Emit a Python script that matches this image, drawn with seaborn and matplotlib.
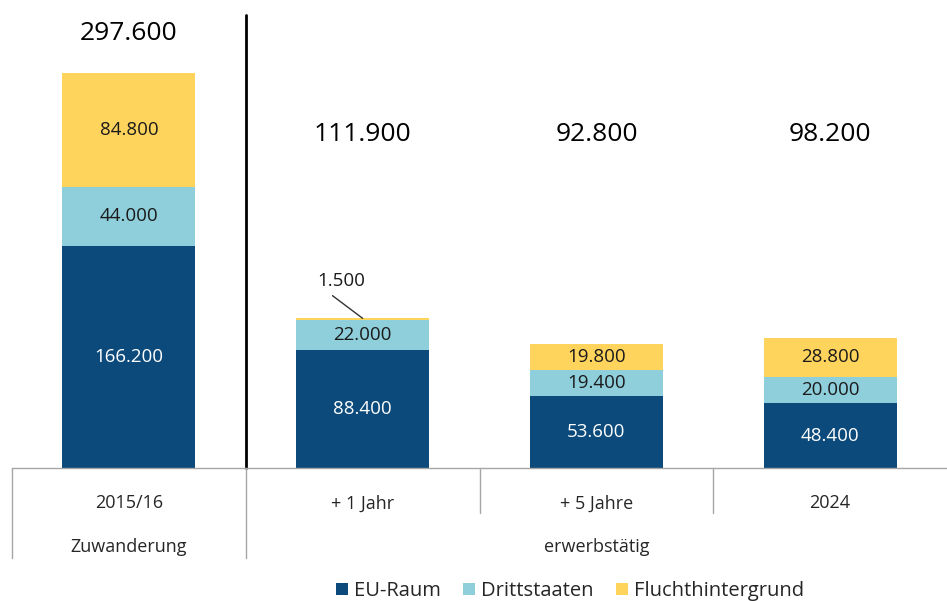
"""Stacked bars: Zuwanderung und Erwerbstätigkeit nach Herkunft"""
import numpy as np
import pandas as pd
import matplotlib
matplotlib.use("Agg")
import matplotlib.pyplot as plt
import seaborn as sns
from matplotlib.transforms import blended_transform_factory

# data
categories = ["2015/16", "+ 1 Jahr", "+ 5 Jahre", "2024"]
eu_raum = [166200, 88400, 53600, 48400]
drittstaaten = [44000, 22000, 19400, 20000]
flucht = [84800, 1500, 19800, 28800]
totals = [297600, 111900, 92800, 98200]
series_names = ["EU-Raum", "Drittstaaten", "Fluchthintergrund"]
group_labels = ["Zuwanderung", "erwerbstätig"]

colors = {"EU-Raum": "#0B4A7A", "Drittstaaten": "#8ECFDB", "Fluchthintergrund": "#FFD45C"}

sns.set_style("white")
plt.rcParams["font.family"] = ["Open Sans", "DejaVu Sans"]


def fmt(v):
    return f"{v:,}".replace(",", ".")


df = pd.DataFrame({
    "Kategorie": categories,
    "EU-Raum": eu_raum,
    "Drittstaaten": drittstaaten,
    "Fluchthintergrund": flucht,
})
df["cum1"] = df["EU-Raum"]
df["cum2"] = df["cum1"] + df["Drittstaaten"]
df["cum3"] = df["cum2"] + df["Fluchthintergrund"]

fig = plt.figure(figsize=(9.47, 6.01), dpi=100)
ax = fig.add_axes([12 / 947, (601 - 468) / 601, 935 / 947, (468 - 15) / 601])

# stacked bars: draw cumulative sums, largest first
bw = 0.57
for col, name in [("cum3", "Fluchthintergrund"), ("cum2", "Drittstaaten"), ("cum1", "EU-Raum")]:
    sns.barplot(data=df, x="Kategorie", y=col, color=colors[name], width=bw,
                saturation=1, ax=ax, label=name, linewidth=0)

ax.set_xlim(-0.5, 3.5)
ax.set_ylim(0, 338700)
ax.set_yticks([])
ax.set_ylabel("")
ax.set_xlabel("")
for s in ["top", "right", "left"]:
    ax.spines[s].set_visible(False)
ax.spines["bottom"].set_color("#A6A6A6")
ax.spines["bottom"].set_linewidth(1)

# segment labels
for i in range(len(categories)):
    ax.text(i, eu_raum[i] / 2, fmt(eu_raum[i]), ha="center", va="center",
            color="white", fontsize=13.5)
    ax.text(i, eu_raum[i] + drittstaaten[i] / 2, fmt(drittstaaten[i]),
            ha="center", va="center", color="#1a1a1a", fontsize=13.5)
    if flucht[i] > 5000:
        ax.text(i, df["cum2"][i] + flucht[i] / 2, fmt(flucht[i]),
                ha="center", va="center", color="#1a1a1a", fontsize=13.5)
    else:
        ax.annotate(fmt(flucht[i]), xy=(i, df["cum3"][i]),
                    xytext=(i - 0.09, df["cum3"][i] + 28000),
                    ha="center", va="center", fontsize=13.5, color="#1a1a1a",
                    arrowprops=dict(arrowstyle="-", color="#333333", lw=1,
                                    shrinkA=3, shrinkB=0,
                                    relpos=(0.15, 0)))

# totals
for i, t in enumerate(totals):
    y = max(t + 27000, 249000)
    ax.text(i, y, fmt(t), ha="center", va="center", fontsize=19, color="black")

# vertical separator after first bar
ax.plot([0.5, 0.5], [0, 338700], color="black", lw=2, clip_on=False)

# category axis below
ax.set_xticks(range(len(categories)))
ax.set_xticklabels(categories, fontsize=13)
ax.tick_params(axis="x", length=0, pad=19)

trans = blended_transform_factory(ax.transData, ax.transAxes)
px = 1 / (468 - 15)
for x, depth in [(-0.5, 90), (0.5, 90), (1.5, 45), (2.5, 45)]:
    ax.plot([x, x], [0, -depth * px], color="#A6A6A6", lw=1, transform=trans,
            clip_on=False)
ax.text(0, -79 * px, group_labels[0], transform=trans, ha="center", va="center",
        fontsize=13)
ax.text(2, -79 * px, group_labels[1], transform=trans, ha="center", va="center",
        fontsize=13)

# legend
handles, labels = ax.get_legend_handles_labels()
order = [labels.index(n) for n in series_names]
ax.legend([handles[k] for k in order], series_names, loc="center",
          bbox_to_anchor=(570 / 947, 1 - 591 / 601), bbox_transform=fig.transFigure,
          ncol=3, frameon=False, fontsize=14.5, handlelength=0.6, handleheight=0.6,
          handletextpad=0.3, columnspacing=1.1)

fig.savefig("out.png", dpi=100)
